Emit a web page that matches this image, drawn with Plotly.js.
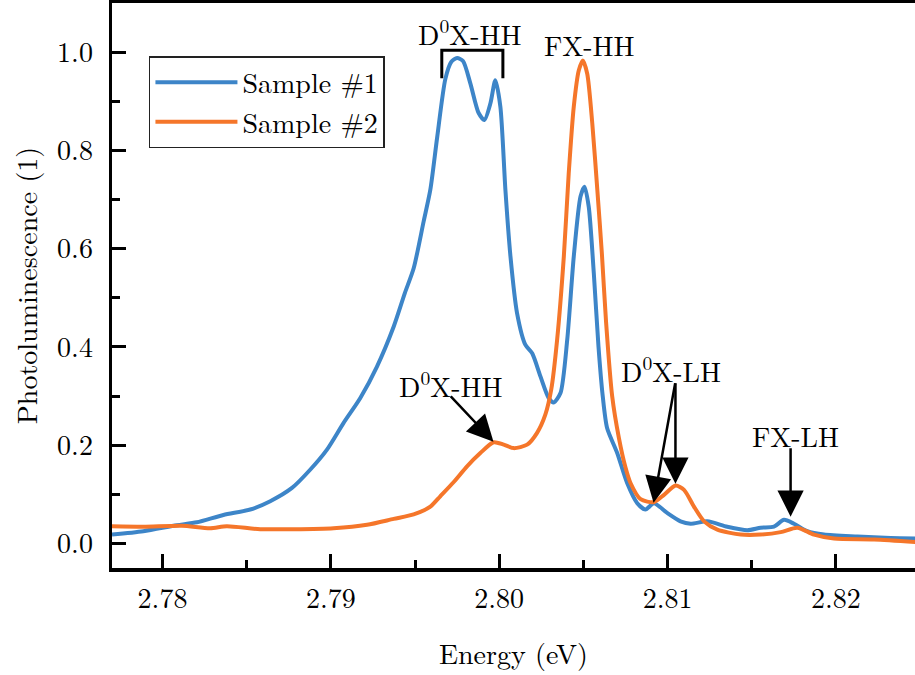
<!DOCTYPE html>
<html>
<head>
<meta charset="utf-8">
<script src="https://cdn.plot.ly/plotly-3.0.1.min.js"></script>
<style>html,body{margin:0;padding:0;background:#fff;}#chart{width:915px;height:675px;}</style>
</head>
<body>
<div id="chart"></div>
<script>
const sample1Energy = [2.77700,2.77886,2.78085,2.78204,2.78362,2.78521,2.78640,2.78769,2.78877,2.78977,2.79075,2.79175,2.79274,2.79373,2.79440,2.79492,2.79551,2.79591,2.79631,2.79680,2.79715,2.79750,2.79785,2.79829,2.79878,2.79912,2.79948,2.79977,2.80007,2.80037,2.80067,2.80106,2.80156,2.80196,2.80245,2.80294,2.80324,2.80364,2.80404,2.80443,2.80483,2.80507,2.80532,2.80562,2.80590,2.80615,2.80641,2.80701,2.80760,2.80820,2.80869,2.80919,2.80998,2.81077,2.81137,2.81236,2.81355,2.81474,2.81553,2.81632,2.81692,2.81751,2.81830,2.81929,2.82128,2.82326,2.82475];
const sample1PL = [0.018,0.025,0.037,0.043,0.058,0.069,0.086,0.113,0.150,0.191,0.245,0.296,0.360,0.441,0.510,0.560,0.655,0.720,0.825,0.945,0.980,0.988,0.982,0.936,0.876,0.862,0.896,0.943,0.889,0.719,0.584,0.469,0.404,0.387,0.340,0.296,0.287,0.306,0.414,0.584,0.706,0.726,0.685,0.550,0.400,0.300,0.235,0.184,0.123,0.082,0.069,0.082,0.062,0.045,0.040,0.045,0.034,0.027,0.032,0.034,0.048,0.040,0.025,0.018,0.014,0.011,0.010];
const sample2Energy = [2.77700,2.77886,2.78115,2.78283,2.78382,2.78580,2.78778,2.79016,2.79215,2.79373,2.79492,2.79591,2.79650,2.79730,2.79809,2.79888,2.79967,2.80027,2.80086,2.80166,2.80225,2.80274,2.80310,2.80344,2.80384,2.80413,2.80443,2.80473,2.80497,2.80523,2.80553,2.80583,2.80610,2.80635,2.80671,2.80711,2.80750,2.80780,2.80840,2.80919,2.80979,2.81048,2.81098,2.81157,2.81217,2.81296,2.81435,2.81553,2.81672,2.81771,2.81870,2.81989,2.82227,2.82475];
const sample2PL = [0.035,0.034,0.036,0.031,0.035,0.029,0.029,0.031,0.038,0.050,0.059,0.075,0.096,0.125,0.157,0.184,0.206,0.201,0.194,0.201,0.225,0.262,0.315,0.414,0.584,0.753,0.889,0.963,0.983,0.956,0.855,0.719,0.590,0.450,0.300,0.215,0.155,0.123,0.090,0.084,0.099,0.118,0.109,0.075,0.045,0.028,0.018,0.018,0.023,0.032,0.018,0.010,0.008,0.003];
const seriesNames = ["Sample #1", "Sample #2"];
const seriesColors = ["#3d85c8", "#f5762a"];

const FONT = "Latin Modern Roman";
const FS = 28;

const traces = [
  {x: sample1Energy, y: sample1PL, name: seriesNames[0], mode: "lines",
   line: {color: seriesColors[0], width: 4, shape: "spline", smoothing: 0.7}},
  {x: sample2Energy, y: sample2PL, name: seriesNames[1], mode: "lines",
   line: {color: seriesColors[1], width: 4, shape: "spline", smoothing: 0.7}}
];

function arrow(tipX, tipY, tailX, tailY) {
  return {x: tipX, y: tipY, ax: tailX, ay: tailY, xref: "x", yref: "y", axref: "x", ayref: "y",
          text: "", showarrow: true, arrowhead: 2, arrowsize: 2.1, arrowwidth: 2.5,
          arrowcolor: "#000", standoff: 0};
}
function label(txt, x, y) {
  return {x: x, y: y, xref: "x", yref: "y", text: txt, showarrow: false,
          font: {family: FONT, size: FS, color: "#000"}};
}

const layout = {
  width: 915, height: 675,
  margin: {l: 112, r: 0, t: 3, b: 107},
  paper_bgcolor: "#fff", plot_bgcolor: "#fff",
  font: {family: FONT, size: FS, color: "#000"},
  showlegend: true,
  legend: {x: 0.046, y: 0.906, xanchor: "left", yanchor: "top",
           bordercolor: "#222", borderwidth: 1.5, bgcolor: "#fff",
           font: {family: FONT, size: FS, color: "#000"}, itemwidth: 82, tracegroupgap: 0},
  xaxis: {range: [2.777, 2.8247], dtick: 0.01, tick0: 2.78, tickformat: ".2f",
          ticks: "inside", ticklen: 14, tickwidth: 3, tickcolor: "#000",
          minor: {dtick: 0.005, ticks: "inside", ticklen: 8, tickwidth: 3, tickcolor: "#000"},
          showline: true, linewidth: 3.5, linecolor: "#000", mirror: true,
          showgrid: false, zeroline: false, ticklabelstandoff: 3,
          tickfont: {family: FONT, size: FS, color: "#000"},
          title: {text: "Energy (eV)", font: {family: FONT, size: FS, color: "#000"}, standoff: 30}},
  yaxis: {range: [-0.05, 1.10], dtick: 0.2, tick0: 0, tickformat: ".1f",
          ticks: "inside", ticklen: 14, tickwidth: 3, tickcolor: "#000",
          minor: {dtick: 0.1, ticks: "inside", ticklen: 8, tickwidth: 3, tickcolor: "#000"},
          showline: true, linewidth: 3.5, linecolor: "#000", mirror: false,
          showgrid: false, zeroline: false, ticklabelstandoff: 10,
          tickfont: {family: FONT, size: FS, color: "#000"},
          title: {text: "Photoluminescence (1)", font: {family: FONT, size: FS, color: "#000"}, standoff: 12}},
  shapes: [
    {type: "path", xref: "x", yref: "y",
     path: "M 2.79659 0.947 L 2.79659 1.004 L 2.80022 1.004 L 2.80022 0.947",
     line: {color: "#000", width: 3}}
  ],
  annotations: [
    label("D<sup>0</sup>X-HH", 2.79829, 1.042),
    label("FX-HH", 2.80537, 1.016),
    label("D<sup>0</sup>X-HH", 2.79716, 0.325),
    label("D<sup>0</sup>X-LH", 2.81018, 0.355),
    label("FX-LH", 2.81761, 0.221),
    arrow(2.79966, 0.207, 2.79704, 0.3025),
    arrow(2.80917, 0.083, 2.81047, 0.329),
    arrow(2.81047, 0.1216, 2.81047, 0.329),
    arrow(2.81731, 0.0545, 2.81731, 0.197)
  ]
};

Plotly.newPlot("chart", traces, layout, {displayModeBar: false, staticPlot: true});
</script>
</body>
</html>
